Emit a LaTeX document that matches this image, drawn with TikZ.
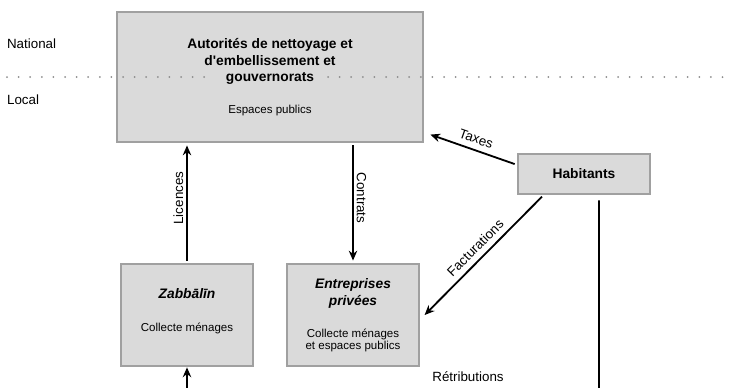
\documentclass[tikz,border=0pt]{standalone}
\usepackage{fontspec}
\setmainfont{Liberation Sans}
\usetikzlibrary{arrows.meta}

\definecolor{boxgray}{HTML}{DADADA}
\definecolor{edgegray}{HTML}{A0A0A0}
\definecolor{dotgray}{HTML}{8C8C8C}

\newcommand{\headfont}{\fontsize{9.8}{12}\selectfont\bfseries}
\newcommand{\bodyfont}{\fontsize{8.2}{8.8}\selectfont\mdseries\upshape}
\newcommand{\labfont}{\fontsize{9.5}{11}\selectfont}

\begin{document}
\begin{tikzpicture}[x=0.025cm, y=-0.025cm,
    actor/.style={draw=edgegray, fill=boxgray, line width=0.9pt, align=center, inner sep=0pt},
    flow/.style={line width=1.3pt, -{Stealth[length=7pt,width=6pt]}, shorten >=2pt, shorten <=2pt},
    lab/.style={font=\labfont, inner sep=2pt},
    dotline/.style={dotgray, line width=0.05cm, line cap=round, dash pattern=on 0pt off 0.29cm}]
    \useasboundingbox (0,0) rectangle (730,388);
    \node[actor, font=\headfont, minimum width=7.65cm, minimum height=3.25cm] at (270,77) (A) {Autorités de nettoyage et\\d\textquotesingle embellissement et\\gouvernorats\\[10.5pt]\bodyfont Espaces publics};
    \node[actor, font=\headfont\itshape, minimum width=3.3cm, minimum height=2.55cm] at (187,315) (Z) {Zabbālīn\\[11pt]\bodyfont Collecte ménages\\[-5pt]};
    \node[actor, font=\headfont\itshape, minimum width=3.3cm, minimum height=2.55cm] at (353,315) (E) {Entreprises\\privées\\[11pt]\bodyfont Collecte ménages\\[-3.5pt]\bodyfont et espaces publics};
    \node[actor, font=\headfont, minimum width=3.3cm, minimum height=1cm] at (584,174) (H) {Habitants};
    \node[lab, anchor=west] at (4,44) (nat) {National};
    \node[lab, anchor=west] at (4,100) (loc) {Local};
    \draw[dotline] (7,77) -- (213,77);
    \draw[dotline] (328,77) -- (730,77);
    \draw[flow] (Z.north) -- (Z |- A.south) node[lab, midway, above=3.5pt, rotate=90] {Licences};
    \draw[flow] (E |- A.south) -- (E.north) node[lab, midway, above=3.5pt, rotate=-90] {Contrats};
    \draw[flow] ([yshift=0.225cm]H.west) -- ([xshift=0.1cm,yshift=0.225cm]A.south east) node[lab, midway, above=2pt, sloped] {Taxes};
    \draw[flow] ([xshift=-1cm]H.south) -- ([xshift=0.075cm,yshift=-0.05cm]E.east) node[lab, midway, above=2pt, sloped] {Facturations};
    \coordinate (hbot) at (599,388);
    \coordinate (zbot) at (187,388);
    \draw[line width=1.3pt, shorten <=4pt] ([xshift=0.375cm]H.south) -- (hbot);
    \draw[flow, shorten >=0.5pt, shorten <=0pt] (zbot) -- (Z.south);
    \node[lab] at (468,377) (ret) {Rétributions};
\end{tikzpicture}
\end{document}
